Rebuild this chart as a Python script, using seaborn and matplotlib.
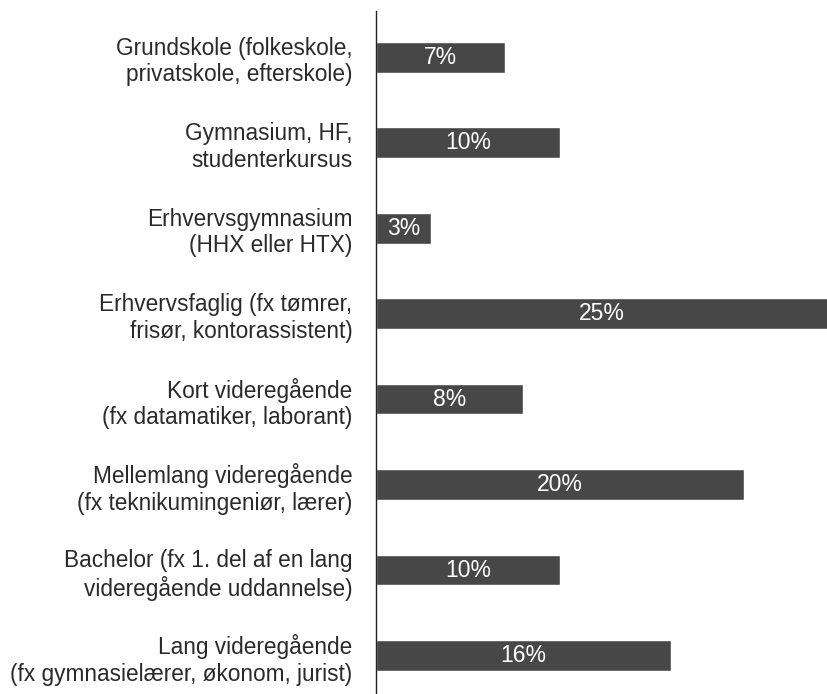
import matplotlib
matplotlib.use("Agg")
import matplotlib.pyplot as plt
import seaborn as sns
import pandas as pd

# Data
categories = [
    "Grundskole (folkeskole,\nprivatskole, efterskole)",
    "Gymnasium, HF,\nstudenterkursus",
    "Erhvervsgymnasium\n(HHX eller HTX)",
    "Erhvervsfaglig (fx tømrer,\nfrisør, kontorassistent)",
    "Kort videregående\n(fx datamatiker, laborant)",
    "Mellemlang videregående\n(fx teknikumingeniør, lærer)",
    "Bachelor (fx 1. del af en lang\nvideregående uddannelse)",
    "Lang videregående\n(fx gymnasielærer, økonom, jurist)",
]
values = [7, 10, 3, 25, 8, 20, 10, 16]
value_labels = ["7%", "10%", "3%", "25%", "8%", "20%", "10%", "16%"]

df = pd.DataFrame({"category": categories, "value": values})

sns.set_style("white")
plt.rcParams["font.family"] = ["Liberation Sans", "DejaVu Sans"]

fig = plt.figure(figsize=(8.28, 6.94), dpi=100)
ax = fig.add_axes([376 / 828, -0.011, 1 - 376 / 828, 0.995])

sns.barplot(data=df, x="value", y="category", orient="h", color="#474747",
            saturation=1, width=0.36, ax=ax)

ax.bar_label(ax.containers[0], labels=value_labels, label_type="center",
             color="white", fontsize=16.5)

ax.set_xlim(0, 24.55)
ax.set_ylim(7.54, -0.54)
ax.set_xlabel("")
ax.set_ylabel("")
ax.set_xticks([])
ax.tick_params(axis="y", length=0, pad=17, labelsize=16.3, labelcolor="#2a2a2a")
for lbl in ax.get_yticklabels():
    lbl.set_horizontalalignment("right")
    lbl.set_multialignment("right")
    lbl.set_linespacing(1.2)

for side in ["top", "right", "bottom"]:
    ax.spines[side].set_visible(False)
ax.spines["left"].set_color("#222222")
ax.spines["left"].set_linewidth(1.0)

fig.savefig("out.png", dpi=100)
